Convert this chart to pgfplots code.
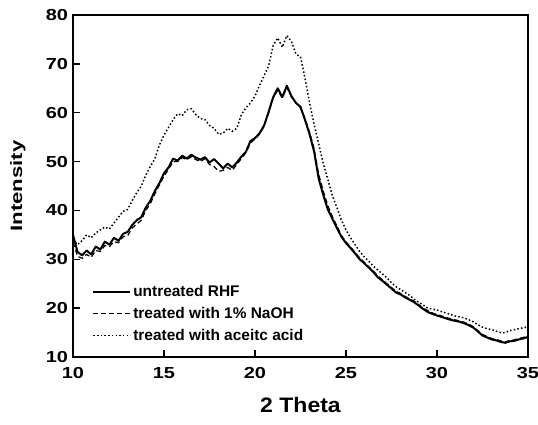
\documentclass[border=0pt]{standalone}
\usepackage{pgfplots}
\pgfplotsset{compat=1.18}
\usepackage{pgfplotstable}
\usepackage{fontspec}
\setmainfont{Liberation Sans}
\newfontfamily\widefont{Liberation Sans}[FakeStretch=1.25]
\newfontfamily\labfont{Liberation Sans}[FakeStretch=1.1]

\pgfplotstableread{
x y
10.00 35.0
10.25 31.5
10.50 30.8
10.75 31.8
11.00 31.0
11.25 32.6
11.50 32.0
11.75 33.6
12.00 33.0
12.25 34.4
12.50 33.8
12.75 35.2
13.00 35.6
13.25 37.0
13.50 38.0
13.75 38.6
14.00 40.6
14.25 42.0
14.50 44.0
14.75 45.6
15.00 47.6
15.25 48.8
15.50 50.6
15.75 50.2
16.00 51.2
16.25 50.6
16.50 51.4
16.75 50.8
17.00 50.4
17.25 50.9
17.50 49.8
17.75 50.5
18.00 49.6
18.25 48.6
18.50 49.6
18.75 48.8
19.00 49.8
19.25 51.0
19.50 52.0
19.75 54.2
20.00 54.8
20.25 55.8
20.50 57.4
20.75 60.2
21.00 63.2
21.25 65.0
21.50 63.2
21.75 65.5
22.00 63.4
22.25 62.0
22.50 61.2
22.75 58.5
23.00 55.6
23.25 52.0
23.50 46.5
23.75 43.2
24.00 40.2
24.25 38.3
24.50 36.4
24.75 34.6
25.00 33.3
25.25 32.3
25.50 31.2
25.75 30.0
26.00 29.2
26.25 28.3
26.50 27.4
26.75 26.3
27.00 25.6
27.25 24.8
27.50 24.0
27.75 23.2
28.00 22.8
28.25 22.2
28.50 21.7
28.75 21.2
29.00 20.5
29.25 19.8
29.50 19.2
29.75 18.8
30.00 18.5
30.25 18.2
30.50 17.9
30.75 17.6
31.00 17.4
31.25 17.2
31.50 16.9
31.75 16.5
32.00 16.0
32.25 15.2
32.50 14.4
32.75 14.0
33.00 13.6
33.25 13.4
33.50 13.1
33.75 12.9
34.00 13.2
34.25 13.3
34.50 13.6
34.75 13.8
35.00 14.1
}\untreated

\pgfplotstableread{
x y
10.00 33.5
10.25 30.6
10.50 30.2
10.75 31.0
11.00 30.4
11.25 31.8
11.50 31.6
11.75 32.8
12.00 32.6
12.25 33.6
12.50 33.4
12.75 34.6
13.00 34.8
13.25 36.4
13.50 37.2
13.75 38.0
14.00 40.0
14.25 41.4
14.50 43.4
14.75 45.2
15.00 47.0
15.25 48.4
15.50 50.0
15.75 50.0
16.00 50.8
16.25 50.4
16.50 51.0
16.75 50.4
17.00 50.0
17.25 50.6
17.50 49.4
17.75 49.0
18.00 48.0
18.25 48.2
18.50 48.8
18.75 48.2
19.00 49.4
19.25 50.6
19.50 51.8
19.75 53.8
20.00 54.6
20.25 55.6
20.50 57.2
20.75 60.0
21.00 63.0
21.25 64.6
21.50 63.0
21.75 65.2
22.00 63.2
22.25 62.0
22.50 61.0
22.75 58.8
23.00 56.0
23.25 52.6
23.50 47.4
23.75 44.0
24.00 41.0
24.25 38.8
24.50 36.8
24.75 34.9
25.00 33.6
25.25 32.5
25.50 31.4
25.75 30.3
26.00 29.4
26.25 28.5
26.50 27.6
26.75 26.6
27.00 25.8
27.25 25.0
27.50 24.2
27.75 23.5
28.00 23.0
28.25 22.4
28.50 21.9
28.75 21.4
29.00 20.7
29.25 20.0
29.50 19.5
29.75 19.0
30.00 18.7
30.25 18.4
30.50 18.1
30.75 17.8
31.00 17.6
31.25 17.4
31.50 17.1
31.75 16.7
32.00 16.2
32.25 15.4
32.50 14.6
32.75 14.2
33.00 13.8
33.25 13.6
33.50 13.3
33.75 13.1
34.00 13.4
34.25 13.5
34.50 13.8
34.75 14.0
35.00 14.3
}\naoh

\pgfplotstableread{
x y
10.00 34.0
10.25 33.0
10.50 33.8
10.75 35.0
11.00 34.4
11.25 35.4
11.50 36.0
11.75 36.6
12.00 36.2
12.25 37.4
12.50 38.6
12.75 39.8
13.00 40.2
13.25 42.0
13.50 43.6
13.75 45.0
14.00 47.2
14.25 49.0
14.50 50.6
14.75 53.4
15.00 55.4
15.25 57.0
15.50 58.6
15.75 59.8
16.00 59.4
16.25 60.6
16.50 60.8
16.75 59.6
17.00 58.8
17.25 58.6
17.50 57.4
17.75 56.8
18.00 55.6
18.25 55.8
18.50 56.8
18.75 56.2
19.00 56.8
19.25 59.6
19.50 61.0
19.75 62.0
20.00 63.4
20.25 65.6
20.50 67.6
20.75 69.6
21.00 73.8
21.25 75.3
21.50 73.4
21.75 75.8
22.00 74.6
22.25 72.0
22.50 71.4
22.75 67.0
23.00 62.0
23.25 57.6
23.50 53.6
23.75 49.6
24.00 46.4
24.25 43.0
24.50 40.6
24.75 38.0
25.00 36.0
25.25 34.4
25.50 33.0
25.75 31.6
26.00 30.5
26.25 29.6
26.50 28.6
26.75 27.8
27.00 27.0
27.25 26.2
27.50 25.2
27.75 24.4
28.00 23.8
28.25 23.2
28.50 22.6
28.75 21.8
29.00 21.2
29.25 20.6
29.50 20.0
29.75 19.8
30.00 19.6
30.25 19.3
30.50 19.0
30.75 18.7
31.00 18.4
31.25 18.2
31.50 18.0
31.75 17.6
32.00 17.2
32.25 16.6
32.50 16.1
32.75 15.8
33.00 15.6
33.25 15.3
33.50 15.0
33.75 15.0
34.00 15.4
34.25 15.6
34.50 15.8
34.75 16.0
35.00 16.2
}\acetic

\begin{document}
\begin{tikzpicture}
\begin{axis}[
  scale only axis,
  width=455bp, height=342bp,
  xmin=10, xmax=35, ymin=10, ymax=80,
  xtick={10,15,20,25,30,35},
  ytick={10,20,30,40,50,60,70,80},
  xtick pos=bottom, ytick pos=left,
  tick align=inside,
  major tick length=7bp,
  axis line style={line width=1.6bp},
  every tick/.style={black, line width=1.4bp},
  /pgf/number format/assume math mode=true,
  ticklabel style={font=\widefont\bfseries\fontsize{16}{17}\selectfont},
  yticklabel style={xshift=-1.5bp},
  xticklabel style={yshift=-7bp},
  xlabel={\labfont\bfseries\fontsize{21}{23}\selectfont 2 Theta},
  ylabel={\scalebox{1.35}[1]{\bfseries\fontsize{16.5}{18}\selectfont Intensity}},
  xlabel style={at={(axis description cs:0.5,-0.14)}, anchor=center},
  ylabel style={at={(axis description cs:-0.121,0.5)}, anchor=center, rotate=0},
  legend cell align=left,
  legend style={at={(axis description cs:0.042,0.215)}, anchor=north west,
    draw=none, fill=none, font=\bfseries\fontsize{15.5}{16}\selectfont,
    row sep=5bp, inner sep=0pt},
  legend image code/.code={\draw[#1] (0bp,0bp) -- (37bp,0bp);},
  clip=true,
]
\addplot[black, line width=2bp, line join=round] table[x=x,y=y] {\untreated};
\addlegendentry{untreated RHF}
\addplot[black, line width=1.2bp, dash pattern=on 5bp off 3bp] table[x=x,y=y] {\naoh};
\addlegendentry{treated with 1\% NaOH}
\addplot[black, line width=1.5bp, dash pattern=on 1.5bp off 2.2bp] table[x=x,y=y] {\acetic};
\addlegendentry{treated with aceitc acid}
\coordinate (sw) at (rel axis cs:0,0);
\coordinate (ne) at (rel axis cs:1,1);
\end{axis}
\pgfresetboundingbox
\path ([xshift=-73bp,yshift=-68bp]sw) rectangle ([xshift=10bp,yshift=15bp]ne);
\end{tikzpicture}
\end{document}
